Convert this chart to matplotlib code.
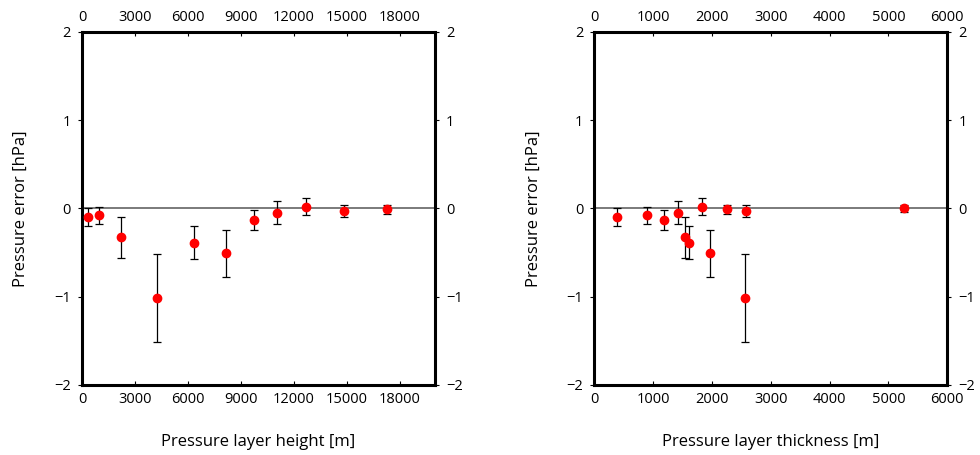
import numpy as np
import matplotlib
matplotlib.use('Agg')
import matplotlib.pyplot as plt

plt.rcParams['font.family'] = ['Open Sans', 'DejaVu Sans']

# pressure layer height [m] vs pressure error [hPa]
height = [360, 980, 2210, 4270, 6360, 8160, 9720, 11030, 12670, 14860, 17280]
height_err = [-0.10, -0.08, -0.33, -1.02, -0.39, -0.51, -0.13, -0.05, 0.02, -0.03, -0.01]
height_sd = [0.10, 0.10, 0.23, 0.50, 0.19, 0.27, 0.11, 0.13, 0.10, 0.07, 0.05]

# pressure layer thickness [m] vs pressure error [hPa]
thickness = [380, 890, 1185, 1420, 1545, 1605, 1830, 1960, 2255, 2580, 2565, 5265]
thickness_err = [-0.10, -0.08, -0.13, -0.05, -0.33, -0.39, 0.02, -0.51, -0.01, -0.03, -1.02, 0.0]
thickness_sd = [0.10, 0.10, 0.11, 0.13, 0.23, 0.19, 0.10, 0.27, 0.05, 0.07, 0.50, 0.04]

x_labels = ['Pressure layer height [m]', 'Pressure layer thickness [m]']
x_ticks = [np.arange(0, 18001, 3000), np.arange(0, 6001, 1000)]
x_limits = [(0, 20000), (0, 6000)]

fig = plt.figure(figsize=(9.8, 4.55), dpi=100)
ax1 = fig.add_axes([0.0837, 0.1545, 0.3602, 0.7752])
ax2 = fig.add_axes([0.6064, 0.1545, 0.3602, 0.7752])

panels = [(ax1, height, height_err, height_sd),
          (ax2, thickness, thickness_err, thickness_sd)]

for i, (ax, x, y, sd) in enumerate(panels):
    ax.axhline(0, color='#707070', lw=1.3, zorder=1)
    ax.errorbar(x, y, yerr=sd, fmt='o', color='red', ms=6, mec='red',
                ecolor='black', elinewidth=0.9, capsize=3, capthick=0.9,
                zorder=3)
    ax.set_xlim(*x_limits[i])
    ax.set_ylim(-2, 2)
    ax.set_xticks(x_ticks[i])
    ax.set_yticks([-2, -1, 0, 1, 2])
    ax.set_yticklabels(['\u22122', '\u22121', '0', '1', '2'])
    ax.tick_params(axis='x', direction='in', length=3, width=0.8,
                   top=True, labeltop=True, labelsize=10.5, pad=5)
    ax.tick_params(axis='y', direction='out', length=3, width=0.8,
                   right=True, labelright=True, labelsize=10.5, pad=5)
    for s in ax.spines.values():
        s.set_linewidth(2.2)
    ax.set_xlabel(x_labels[i], fontsize=12, labelpad=20)
    ax.set_ylabel('Pressure error [hPa]', fontsize=12, labelpad=18)

fig.savefig('out.png', dpi=100)
